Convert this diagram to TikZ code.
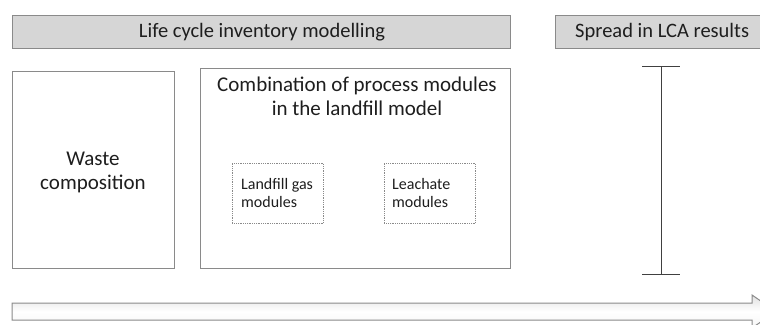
\documentclass[tikz,border=0pt]{standalone}
\usepackage{fontspec}
\setmainfont{Carlito}
\definecolor{txt}{HTML}{1E1E1E}
\definecolor{bord}{HTML}{8A8A8A}
\definecolor{barfill}{HTML}{D6D6D6}
\begin{document}
\begin{tikzpicture}[x=1pt,y=-1pt,
  headbar/.style={draw=bord, line width=1pt, fill=barfill, text=txt, font=\fontsize{20.5}{24}\selectfont, inner sep=0pt},
  mainbox/.style={draw=bord, line width=0.9pt, fill=white, text=txt, inner sep=0pt},
  modbox/.style={draw=bord, densely dotted, line width=0.8pt, inner sep=0pt},
  modtext/.style={text=txt, align=left, font=\fontsize{16}{18.5}\selectfont, inner sep=0pt, anchor=base west},
  errbar/.style={draw=black!75, line width=1pt}]
\useasboundingbox (0,0) rectangle (760,324);
% header bars
\node[headbar, minimum width=498pt, minimum height=33pt, anchor=north west] (lci) at (12,15) {};
\node[text=txt, font=\fontsize{20.5}{24}\selectfont, inner sep=0pt, anchor=base] (lcitxt) at (262,37.5) {Life cycle inventory modelling};
\node[headbar, minimum width=215pt, minimum height=33pt, anchor=north west] (spread) at (555,15) {};
\node[text=txt, font=\fontsize{20.5}{24}\selectfont, inner sep=0pt, anchor=base west] (spreadtxt) at (575,37.5) {Spread in LCA results};
% waste box
\node[mainbox, minimum width=162pt, minimum height=197pt, anchor=north west] (waste) at (12,71) {};
\node[text=txt, align=center, font=\fontsize{21}{24}\selectfont, inner sep=0pt, anchor=base] (wastetxt) at (93,165) {Waste};
\node[text=txt, align=center, font=\fontsize{21}{24}\selectfont, inner sep=0pt, anchor=base] (wastetxt2) at (93,189) {composition};
% combination box
\node[mainbox, minimum width=310pt, minimum height=200pt, anchor=north west] (comb) at (200,68) {};
\node[text=txt, font=\fontsize{21}{24}\selectfont, inner sep=0pt, anchor=base] (combtxt) at (357,91) {Combination of process modules};
\node[text=txt, font=\fontsize{21}{24}\selectfont, inner sep=0pt, anchor=base] (combtxt2) at (357,115) {in the landfill model};
% module boxes
\node[modbox, minimum width=91pt, minimum height=60pt, anchor=north west] (gas) at (232,163) {};
\node[modtext] (gastxt) at (241,189) {Landfill gas};
\node[modtext] (gastxt2) at (241,207.5) {modules};
\node[modbox, minimum width=91pt, minimum height=60pt, anchor=north west] (leach) at (384,163) {};
\node[modtext] (leachtxt) at (392,189) {Leachate};
\node[modtext] (leachtxt2) at (392,207.5) {modules};
% error bar
\coordinate (et) at (661,66);
\coordinate (eb) at (661,274);
\draw[errbar] (et) -- (eb);
\draw[errbar] ([xshift=-19pt]et) -- ([xshift=19pt]et);
\draw[errbar] ([xshift=-19pt]eb) -- ([xshift=19pt]eb);
% bottom arrow
\shade[top color=black!12, bottom color=black!4, middle color=white]
  (12,303) -- (752,303) -- (752,295) -- (776,311.5) -- (752,328) -- (752,320) -- (12,320) -- cycle;
\draw[bord, line width=1pt]
  (12,303) -- (752,303) -- (752,295) -- (776,311.5) -- (752,328) -- (752,320) -- (12,320) -- cycle;
\end{tikzpicture}
\end{document}
